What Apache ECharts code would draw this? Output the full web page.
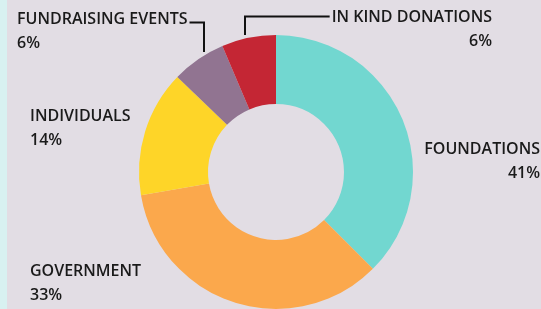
<!DOCTYPE html>
<html>
<head>
<meta charset="utf-8">
<script src="https://cdn.jsdelivr.net/npm/echarts@6/dist/echarts.min.js"></script>
<style>
  html, body { margin: 0; padding: 0; background: #e2dde4; }
  #chart { width: 541px; height: 309px; }
</style>
</head>
<body>
<div id="chart"></div>
<script>
var names = ['FOUNDATIONS', 'GOVERNMENT', 'INDIVIDUALS', 'FUNDRAISING EVENTS', 'IN KIND DONATIONS'];
var values = [37.5, 34.8, 14.9, 6.4, 6.4];
var pctLabels = ['41%', '33%', '14%', '6%', '6%'];
var colors = ['#72d7d0', '#fba84c', '#fed528', '#917491', '#c42634'];

var cx = 276, cy = 172, rIn = 68, rOut = 137;

// where each label block sits (x, y = middle of the two lines)
var labelSpots = [
  { x: 540, y: 161, align: 'right' },
  { x: 30, y: 283, align: 'left' },
  { x: 30, y: 128, align: 'left' },
  { x: 17, y: 31, align: 'left', lineX: 204, lineY: 22.5 },
  { x: 492, y: 29, align: 'right', lineX: 245, lineY: 16.5 }
];

var chart = echarts.init(document.getElementById('chart'), null, { renderer: 'canvas' });

var data = names.map(function(n, i) {
  return {
    name: n,
    value: values[i],
    itemStyle: { color: colors[i] },
    labelLine: { show: !!labelSpots[i].lineX }
  };
});

chart.setOption({
  animation: false,
  backgroundColor: '#e2dde4',
  graphic: [{
    type: 'rect',
    shape: { x: 0, y: 0, width: 7, height: 309 },
    style: { fill: '#d8f1f1' },
    silent: true
  }],
  series: [{
    type: 'pie',
    center: [cx, cy],
    radius: [rIn, rOut],
    startAngle: 90,
    clockwise: true,
    avoidLabelOverlap: false,
    data: data,
    label: {
      show: true,
      position: 'outside',
      fontFamily: 'Open Sans',
      fontSize: 16,
      fontWeight: 600,
      color: '#1a1a1a',
      lineHeight: 24,
      formatter: function(p) {
        return p.name + '\n' + pctLabels[p.dataIndex];
      }
    },
    labelLine: {
      lineStyle: { color: '#111', width: 2 }
    },
    labelLayout: function(params) {
      var s = labelSpots[params.dataIndex];
      var out = { x: s.x, y: s.y, align: s.align, verticalAlign: 'middle' };
      if (s.lineX) {
        var dx = s.lineX - cx;
        var edgeY = cy - Math.sqrt(rOut * rOut - dx * dx) - 3.5;
        var endX = s.align === 'left' ? s.x + params.labelRect.width + 2 : s.x - params.labelRect.width - 2;
        out.labelLinePoints = [[s.lineX, edgeY], [s.lineX, s.lineY], [endX, s.lineY]];
      }
      return out;
    }
  }]
});

window.addEventListener('resize', function() { chart.resize(); });
</script>
</body>
</html>
